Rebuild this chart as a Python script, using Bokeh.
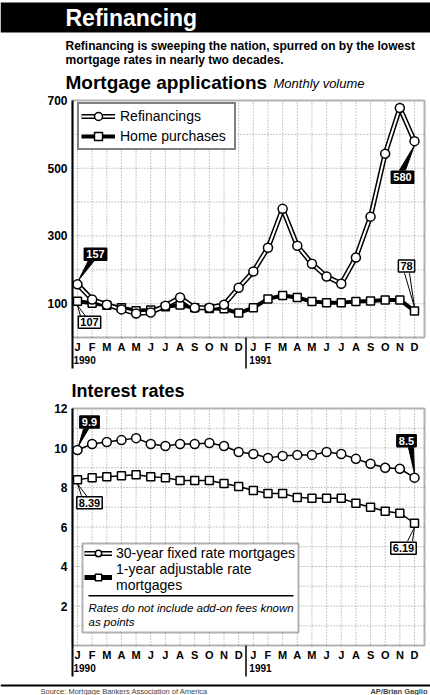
from bokeh.plotting import figure
from bokeh.models import Range1d, Legend, LegendItem, Label, BoxAnnotation
from bokeh.core.properties import value
from bokeh.embed import file_html
from bokeh.resources import INLINE

FONT = "Liberation Sans"
NAN = float("nan")

# ---------------- data ----------------
month_letters = ["J", "F", "M", "A", "M", "J", "J", "A", "S", "O", "N", "D",
                 "J", "F", "M", "A", "M", "J", "J", "A", "S", "O", "N", "D"]
year_labels = ["1990", "1991"]
year_first_month = [0, 12]

refinancings = [157, 112, 97, 83, 71, 74, 94, 118, 88, 88, 97, 147,
                195, 265, 380, 271, 218, 180, 159, 236, 357, 543, 678, 580]
home_purchases = [107, 101, 95, 88, 79, 81, 91, 96, 88, 86, 85, 72,
                  88, 114, 124, 118, 106, 103, 103, 106, 108, 111, 111, 78]
fixed_30yr = [9.9, 10.2, 10.3, 10.4, 10.5, 10.2, 10.1, 10.2, 10.2, 10.25, 10.1, 9.8,
              9.7, 9.5, 9.6, 9.65, 9.65, 9.8, 9.7, 9.45, 9.2, 9.0, 8.95, 8.5]
arm_1yr = [8.39, 8.5, 8.55, 8.6, 8.65, 8.55, 8.5, 8.35, 8.35, 8.35, 8.2, 8.05,
           7.85, 7.7, 7.7, 7.5, 7.45, 7.45, 7.45, 7.2, 7.0, 6.8, 6.7, 6.19]

apps_ticks = [100, 300, 500, 700]
apps_grid = [100, 200, 300, 400, 500, 600]
rate_ticks = [2, 4, 6, 8, 10, 12]
rate_grid = [1, 2, 3, 4, 5, 6, 7, 8, 9, 10, 11]

months = list(range(len(month_letters)))
N = len(months)

# ---------------- page geometry (pixels) ----------------
PW, PH = 430, 695
FL, FR = 72, 424            # chart frame left / right
T1, B1 = 100, 337           # chart 1 top / baseline
T2, B2 = 408, 645           # chart 2 top / baseline
X0 = 77                     # first month position
SX = (414 - X0) / 23.0      # px per month
PX1 = (B1 - T1) / 700.0     # px per application unit
PX2 = (B2 - T2) / 12.0      # px per rate point

p = figure(width=PW, height=PH, x_range=Range1d(0, PW), y_range=Range1d(PH, 0),
           x_axis_location=None, y_axis_location=None, toolbar_location=None,
           output_backend="svg", min_border=0)
p.grid.visible = False
p.outline_line_color = None
p.extra_x_ranges = {"m": Range1d(-X0 / SX, (PW - X0) / SX)}
p.extra_y_ranges = {"apps": Range1d(-(PH - B1) / PX1, B1 / PX1),
                    "rates": Range1d(-(PH - B2) / PX2, B2 / PX2)}


def txt(x, y, s, size, style="bold", color="black", align="left"):
    p.text(x=[x], y=[y], text=[s], text_font=value(FONT), text_font_size=size,
           text_font_style=style, text_color=color, text_baseline="middle",
           text_align=align)


def chart(yr, top_v, base_y, top_y, ticks, grid_levels, ppu):
    # dotted background grid
    p.segment(x0=months, y0=[0] * N, x1=months, y1=[top_v] * N,
              x_range_name="m", y_range_name=yr,
              line_color="#777777", line_dash="1 2", line_width=1, line_alpha=0.8)
    m = len(grid_levels)
    p.segment(x0=[FL] * m, y0=grid_levels, x1=[FR] * m, y1=grid_levels,
              y_range_name=yr,
              line_color="#777777", line_dash="1 2", line_width=1, line_alpha=0.8)
    # tick labels
    p.text(x=[FL - 5] * len(ticks), y=ticks, y_range_name=yr,
           text=[str(t) for t in ticks], text_font=value(FONT), text_font_size="12px",
           text_font_style="bold", text_align="right", text_baseline="middle",
           text_color="black")
    # month letters + years
    p.text(x=months, y=[0] * N, x_range_name="m", y_range_name=yr, text=month_letters,
           y_offset=9, text_font=value(FONT), text_font_size="11px",
           text_font_style="bold", text_align="center", text_baseline="middle",
           text_color="black")
    p.text(x=year_first_month, y=[0] * len(year_first_month), x_range_name="m",
           y_range_name=yr, text=year_labels, x_offset=-4, y_offset=22,
           text_font=value(FONT), text_font_size="10px", text_font_style="bold",
           text_align="left", text_baseline="middle", text_color="black")
    # left axis extension and year separator
    p.segment(x0=[FL], y0=[top_y], x1=[FL], y1=[base_y + 31],
              line_color="black", line_width=2)
    sep = [year_first_month[1] - 0.5]
    p.segment(x0=sep, y0=[base_y], x1=sep, y1=[base_y + 31], x_range_name="m",
              line_color="black", line_width=1.5)
    # frame
    p.add_layout(BoxAnnotation(left=FL, right=FR, top=top_y, bottom=base_y,
                               fill_color=None, line_color="black", line_width=2))


def pointer(yr, xi, yv, ppu, tri=None, lines=None):
    if tri:
        xs = [xi + dx / SX for dx, dy in tri]
        ys = [yv - dy / ppu for dx, dy in tri]
        p.patch(xs, ys, x_range_name="m", y_range_name=yr,
                fill_color="black", line_color="black", line_width=1)
    if lines:
        (ax_, ay), (bx, by), (cx, cy) = lines
        p.segment(x0=[xi + ax_ / SX, xi + bx / SX], y0=[yv - ay / ppu, yv - by / ppu],
                  x1=[xi + cx / SX] * 2, y1=[yv - cy / ppu] * 2,
                  x_range_name="m", y_range_name=yr, line_color="black", line_width=1)


def callout(yr, xi, yv, dx, dy, dark):
    p.add_layout(Label(x=xi, y=yv, x_range_name="m", y_range_name=yr,
                       x_offset=dx, y_offset=-dy, text=f"{yv:g}",
                       text_align="center", text_baseline="middle",
                       text_font=FONT, text_font_size="11px", text_font_style="bold",
                       text_color="white" if dark else "black",
                       background_fill_color="black" if dark else "white",
                       border_line_color="black", border_line_width=1.5, padding=2))


# ---------------- header ----------------
p.quad(left=[0], right=[PW], top=[2], bottom=[32], fill_color="black", line_color=None)
txt(65, 17, "Refinancing", "23px", color="white")
txt(65, 45, "Refinancing is sweeping the nation, spurred on by the lowest", "12px")
txt(65, 59, "mortgage rates in nearly two decades.", "12px")
txt(65, 82, "Mortgage applications", "19px")
txt(273, 83, "Monthly volume", "13px", style="italic")

# ---------------- chart 1: applications ----------------
chart("apps", 700, B1, T1, apps_ticks, apps_grid, PX1)

pointer("apps", months[0], refinancings[0], PX1, tri=[(11, -24), (17, -24), (1, -4)])
pointer("apps", months[0], home_purchases[0], PX1, lines=[(3, 15), (8, 15), (0, 4)])
pointer("apps", months[-1], refinancings[-1], PX1, tri=[(-15, 29), (-9, 29), (0, 4)])
pointer("apps", months[-1], home_purchases[-1], PX1, lines=[(-10, -38), (-5, -38), (0, -4)])

kw1 = dict(x_range_name="m", y_range_name="apps")
h_line = p.line(months, home_purchases, line_color="black", line_width=4, **kw1)
h_pts = p.scatter(months, home_purchases, marker="square", size=8,
                  fill_color="white", line_color="black", line_width=1.5, **kw1)
r_out = p.line(months, refinancings, line_color="black", line_width=5, **kw1)
r_in = p.line(months, refinancings, line_color="white", line_width=2, **kw1)
r_pts = p.scatter(months, refinancings, marker="circle", size=9,
                  fill_color="white", line_color="black", line_width=1.5, **kw1)

callout("apps", months[0], refinancings[0], 18, -30, True)
callout("apps", months[0], home_purchases[0], 12, 21, False)
callout("apps", months[-1], refinancings[-1], -12, 36, True)
callout("apps", months[-1], home_purchases[-1], -8, -45, False)

leg1 = Legend(items=[LegendItem(label="Refinancings", renderers=[r_out, r_in, r_pts]),
                     LegendItem(label="Home purchases", renderers=[h_line, h_pts])],
              location=(77, PH - 150), margin=0, padding=2, spacing=0,
              glyph_width=34, glyph_height=20, label_height=20, label_width=112,
              label_standoff=5, label_text_font=FONT, label_text_font_size="14px",
              label_text_color="black", border_line_color="black", border_line_width=2,
              background_fill_color="white", background_fill_alpha=1)
p.add_layout(leg1)

# ---------------- chart 2: rates ----------------
txt(71, 390, "Interest rates", "18px")
chart("rates", 12, B2, T2, rate_ticks, rate_grid, PX2)

pointer("rates", months[0], fixed_30yr[0], PX2, tri=[(6, -21), (11, -21), (1, -4)])
pointer("rates", months[0], arm_1yr[0], PX2, lines=[(4, 16), (9, 16), (0, 4)])
pointer("rates", months[-1], fixed_30yr[-1], PX2, tri=[(-6, -30), (-1, -30), (0, -4)])
pointer("rates", months[-1], arm_1yr[-1], PX2, lines=[(-7, 18), (-2, 18), (0, 4)])

kw2 = dict(x_range_name="m", y_range_name="rates")
f_line = p.line(months, fixed_30yr, line_color="black", line_width=1.5, **kw2)
f_pts = p.scatter(months, fixed_30yr, marker="circle", size=9,
                  fill_color="white", line_color="black", line_width=1.5, **kw2)
a_line = p.line(months, arm_1yr, line_color="black", line_width=1.5, **kw2)
a_pts = p.scatter(months, arm_1yr, marker="square", size=8,
                  fill_color="white", line_color="black", line_width=1.5, **kw2)

# legend-only sample strokes (no visible data)
t_out = p.line(x=[NAN], y=[NAN], line_color="black", line_width=5, **kw2)
t_in = p.line(x=[NAN], y=[NAN], line_color="white", line_width=2, **kw2)
s_out = p.line(x=[NAN], y=[NAN], line_color="black", line_width=5, **kw2)

callout("rates", months[0], fixed_30yr[0], 12, -28, True)
callout("rates", months[0], arm_1yr[0], 12, 23, False)
callout("rates", months[-1], fixed_30yr[-1], -8, -37, True)
callout("rates", months[-1], arm_1yr[-1], -11, 25, False)

p.add_layout(BoxAnnotation(left=82, right=298, top=543, bottom=632,
                           fill_color="white", fill_alpha=1,
                           line_color="black", line_width=2))
leg2 = Legend(items=[LegendItem(label="30-year fixed rate mortgages", renderers=[t_out, t_in, f_pts]),
                     LegendItem(label="1-year adjustable rate\nmortgages", renderers=[s_out, a_pts])],
              location=(84, PH - 593), margin=0, padding=2, spacing=0,
              glyph_width=28, glyph_height=16, label_height=15, label_standoff=4,
              label_text_font=FONT, label_text_font_size="14px",
              label_text_color="black", border_line_color=None,
              background_fill_alpha=0)
p.add_layout(leg2)
p.add_layout(BoxAnnotation(left=88, right=293, top=594.5, bottom=596,
                           fill_color="black", fill_alpha=1, line_color=None))
for ty, s in [(607, "Rates do not include add-on fees known"), (621, "as points")]:
    p.add_layout(Label(x=88, y=ty, text=s, text_align="left", text_baseline="middle",
                       text_font=FONT, text_font_size="11.5px", text_font_style="italic",
                       text_color="black"))

# ---------------- footer ----------------
p.quad(left=[0], right=[PW], top=[684], bottom=[686], fill_color="black", line_color=None)
p.text(x=[40], y=[690.5], text=["Source: Mortgage Bankers Association of America"],
       text_font=value(FONT), text_font_size="7.5px", text_baseline="middle",
       text_color="#444444")
p.text(x=[427], y=[690.5], text=["AP/Brian Gaglio"], text_font=value(FONT),
       text_font_size="7.5px", text_font_style="bold", text_baseline="middle",
       text_align="right", text_color="#444444")

open("out.html", "w").write(file_html(p, INLINE, "Refinancing"))
